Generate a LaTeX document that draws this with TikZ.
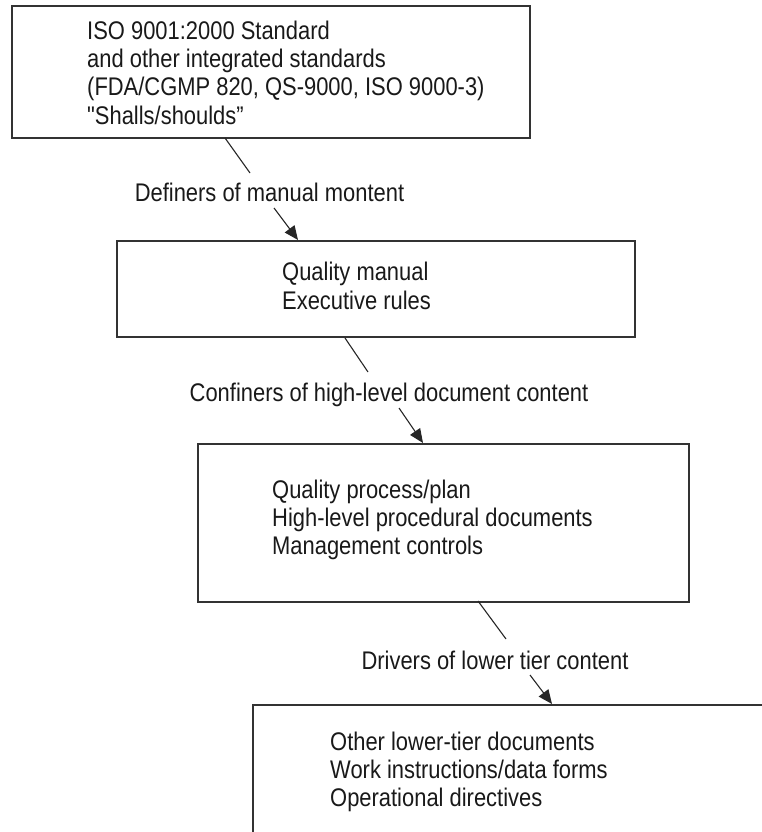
\documentclass[tikz,border=0pt]{standalone}
\usepackage{fontspec}
\setmainfont{Liberation Sans}[FakeStretch=0.86]
% same face without the TeX quote mapping, for a straight double quote
\newfontfamily\rawquote{Liberation Sans}[FakeStretch=0.86]
\usetikzlibrary{arrows.meta}

\tikzset{
  frame/.style={draw=black!80, line width=1.7pt, inner sep=0pt, anchor=north west},
  body/.style={align=left, anchor=west, inner sep=0pt, text=black!90,
    font=\fontsize{25.5}{28.3}\selectfont},
  cue/.style={inner sep=0pt, text=black!90, font=\fontsize{25.5}{28}\selectfont},
  link/.style={draw=black!85, line width=1.1pt},
  linkarrow/.style={link, -{Triangle[length=14pt,width=12pt]}}
}

\begin{document}
\begin{tikzpicture}[x=1pt, y=-1pt]
\useasboundingbox (0,0) rectangle (762,832);

% tier boxes
\node[frame, minimum width=518pt, minimum height=132pt] (std) at (11,5) {};
\node[frame, minimum width=518pt, minimum height=96pt] (qm) at (116,240) {};
\node[frame, minimum width=491pt, minimum height=158pt] (qp) at (197,443) {};
\node[frame, minimum width=600pt, minimum height=200pt] (low) at (252,704) {};

% box contents
\node[body] (stdtxt) at (87,72.5) {ISO 9001:2000 Standard\\and other integrated standards\\(FDA/CGMP 820, QS-9000, ISO 9000-3)\\{\rawquote"}Shalls/shoulds''};
\node[body] (qmtxt) at (282,286) {Quality manual\\Executive rules};
\node[body] (qptxt) at (272,520) {Quality process/plan\\High-level procedural documents\\Management controls};
\node[body] (lowtxt) at (330,772) {Other lower-tier documents\\Work instructions/data forms\\Operational directives};

% connector labels
\node[cue] (l1) at (269.5,192) {Definers of manual montent};
\node[cue] (l2) at (389,395) {Confiners of high-level document content};
\node[cue] (l3) at (495,660) {Drivers of lower tier content};

% break points of the connectors around their labels
\coordinate (a1) at (225,138);
\coordinate (b1) at (250,173);
\coordinate (c1) at (274,208);
\coordinate (d1) at (298,240);
\coordinate (a2) at (345,338);
\coordinate (b2) at (368,372);
\coordinate (c2) at (399,408);
\coordinate (d2) at (423,443);
\coordinate (a3) at (478,601);
\coordinate (b3) at (506,639);
\coordinate (c3) at (530,675);
\coordinate (d3) at (552,704);

\draw[link] (a1) -- (b1);
\draw[linkarrow] (c1) -- (d1);
\draw[link] (a2) -- (b2);
\draw[linkarrow] (c2) -- (d2);
\draw[link] (a3) -- (b3);
\draw[linkarrow] (c3) -- (d3);
\end{tikzpicture}
\end{document}
